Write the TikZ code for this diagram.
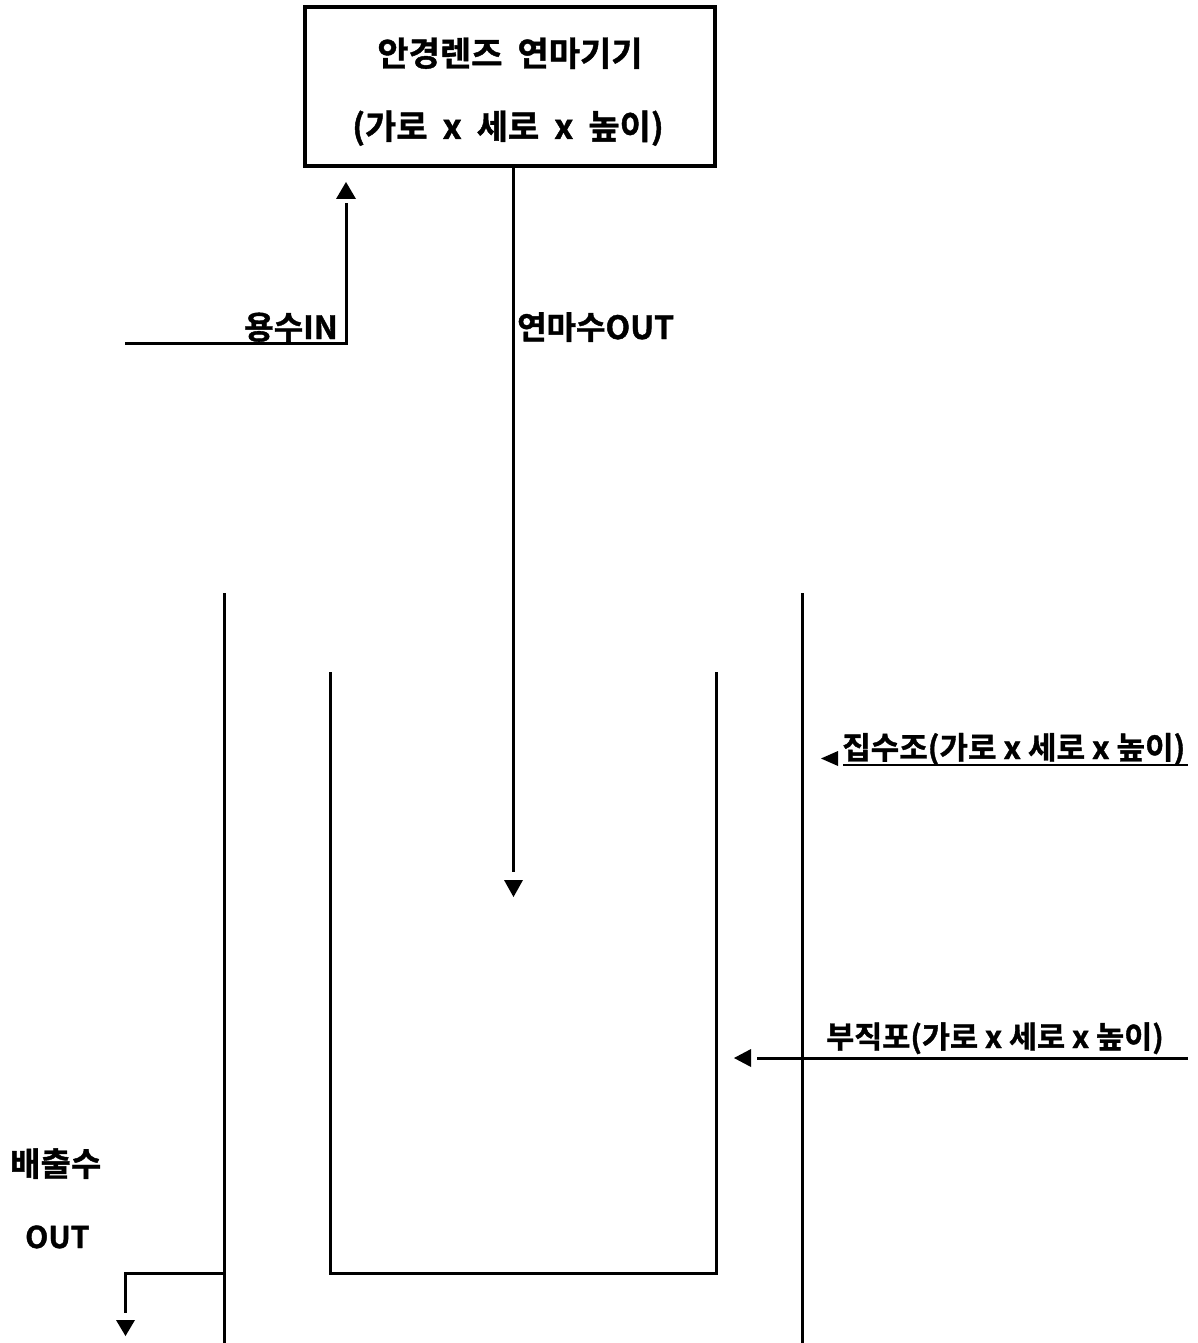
\documentclass[tikz,border=0pt]{standalone}
\usepackage{fontspec}
\setmainfont{Noto Sans CJK KR}[UprightFont=* Bold, FakeBold=1.2]
\begin{document}
\begin{tikzpicture}[x=1pt,y=-1pt,
  wire/.style={line width=3pt},
  thick box/.style={draw,line width=4.5pt,minimum width=410pt,minimum height=159pt,inner sep=0pt},
  lbl/.style={inner sep=0pt,anchor=base},
  tri/.style={fill=black}]
\useasboundingbox (0,0) rectangle (1198,1343);
% machine box
\node[thick box] (machine) at (510,86.5) {};
\node[lbl,font=\fontsize{34}{34}\selectfont] (t1) at (510,66) {\spaceskip=15pt 안경렌즈 연마기기};
\node[lbl,font=\fontsize{34}{34}\selectfont] (t2) at (508,139) {\spaceskip=15pt (가로 x 세로 x 높이)};
% 연마수 OUT
\coordinate (outend) at (513,872);
\draw[wire] (machine.south -| outend) -- (outend);
\fill[tri] (504,880) -- (523,880) -- (513.5,897) -- cycle;
\node[lbl,anchor=base west,font=\fontsize{32}{32}\selectfont] (outlbl) at (517,339) {연마수OUT};
% 용수 IN
\coordinate (inA) at (125,343);
\coordinate (inB) at (346,343);
\coordinate (inC) at (346,203);
\draw[wire] (inA) -- (inB) -- (inC);
\fill[tri] (336,199) -- (356,199) -- (346,182) -- cycle;
\node[lbl,anchor=base east,font=\fontsize{32}{32}\selectfont] (inlbl) at (338,339) {용수IN};
% collection tank
\draw[wire] (224,593) -- (224,1343);
\draw[wire] (802,593) -- (802,1343);
% inner container
\draw[wire] (330,672) -- (330,1273) -- (716,1273) -- (716,672);
% 집수조 label
\fill[tri] (838,751) -- (838,766) -- (821,758.5) -- cycle;
\node[lbl,anchor=base west,font=\fontsize{31}{31}\selectfont] (tanklbl) at (842,759) {집수조(가로 x 세로 x 높이)};
\draw[line width=2.6pt] (843,765) -- (1188,765);
% 부직포 label
\fill[tri] (751,1049) -- (751,1067) -- (734,1058) -- cycle;
\coordinate (clothA) at (757,1058);
\coordinate (clothB) at (1188,1058);
\draw[wire] (clothA) -- (clothB);
\node[lbl,anchor=base west,font=\fontsize{30.5}{30.5}\selectfont] (clothlbl) at (826,1048) {부직포(가로 x 세로 x 높이)};
% 배출수 OUT
\node[lbl,anchor=base west,font=\fontsize{33}{33}\selectfont] (drain1) at (10,1176) {배출수};
\node[lbl,anchor=base west,font=\fontsize{30}{30}\selectfont] (drain2) at (25,1248) {OUT};
\coordinate (dA) at (224,1273);
\coordinate (dB) at (125,1273);
\coordinate (dC) at (125,1313);
\draw[wire] (dA) -- (dB) -- (dC);
\fill[tri] (116,1320) -- (135,1320) -- (125.5,1336) -- cycle;
\end{tikzpicture}
\end{document}
